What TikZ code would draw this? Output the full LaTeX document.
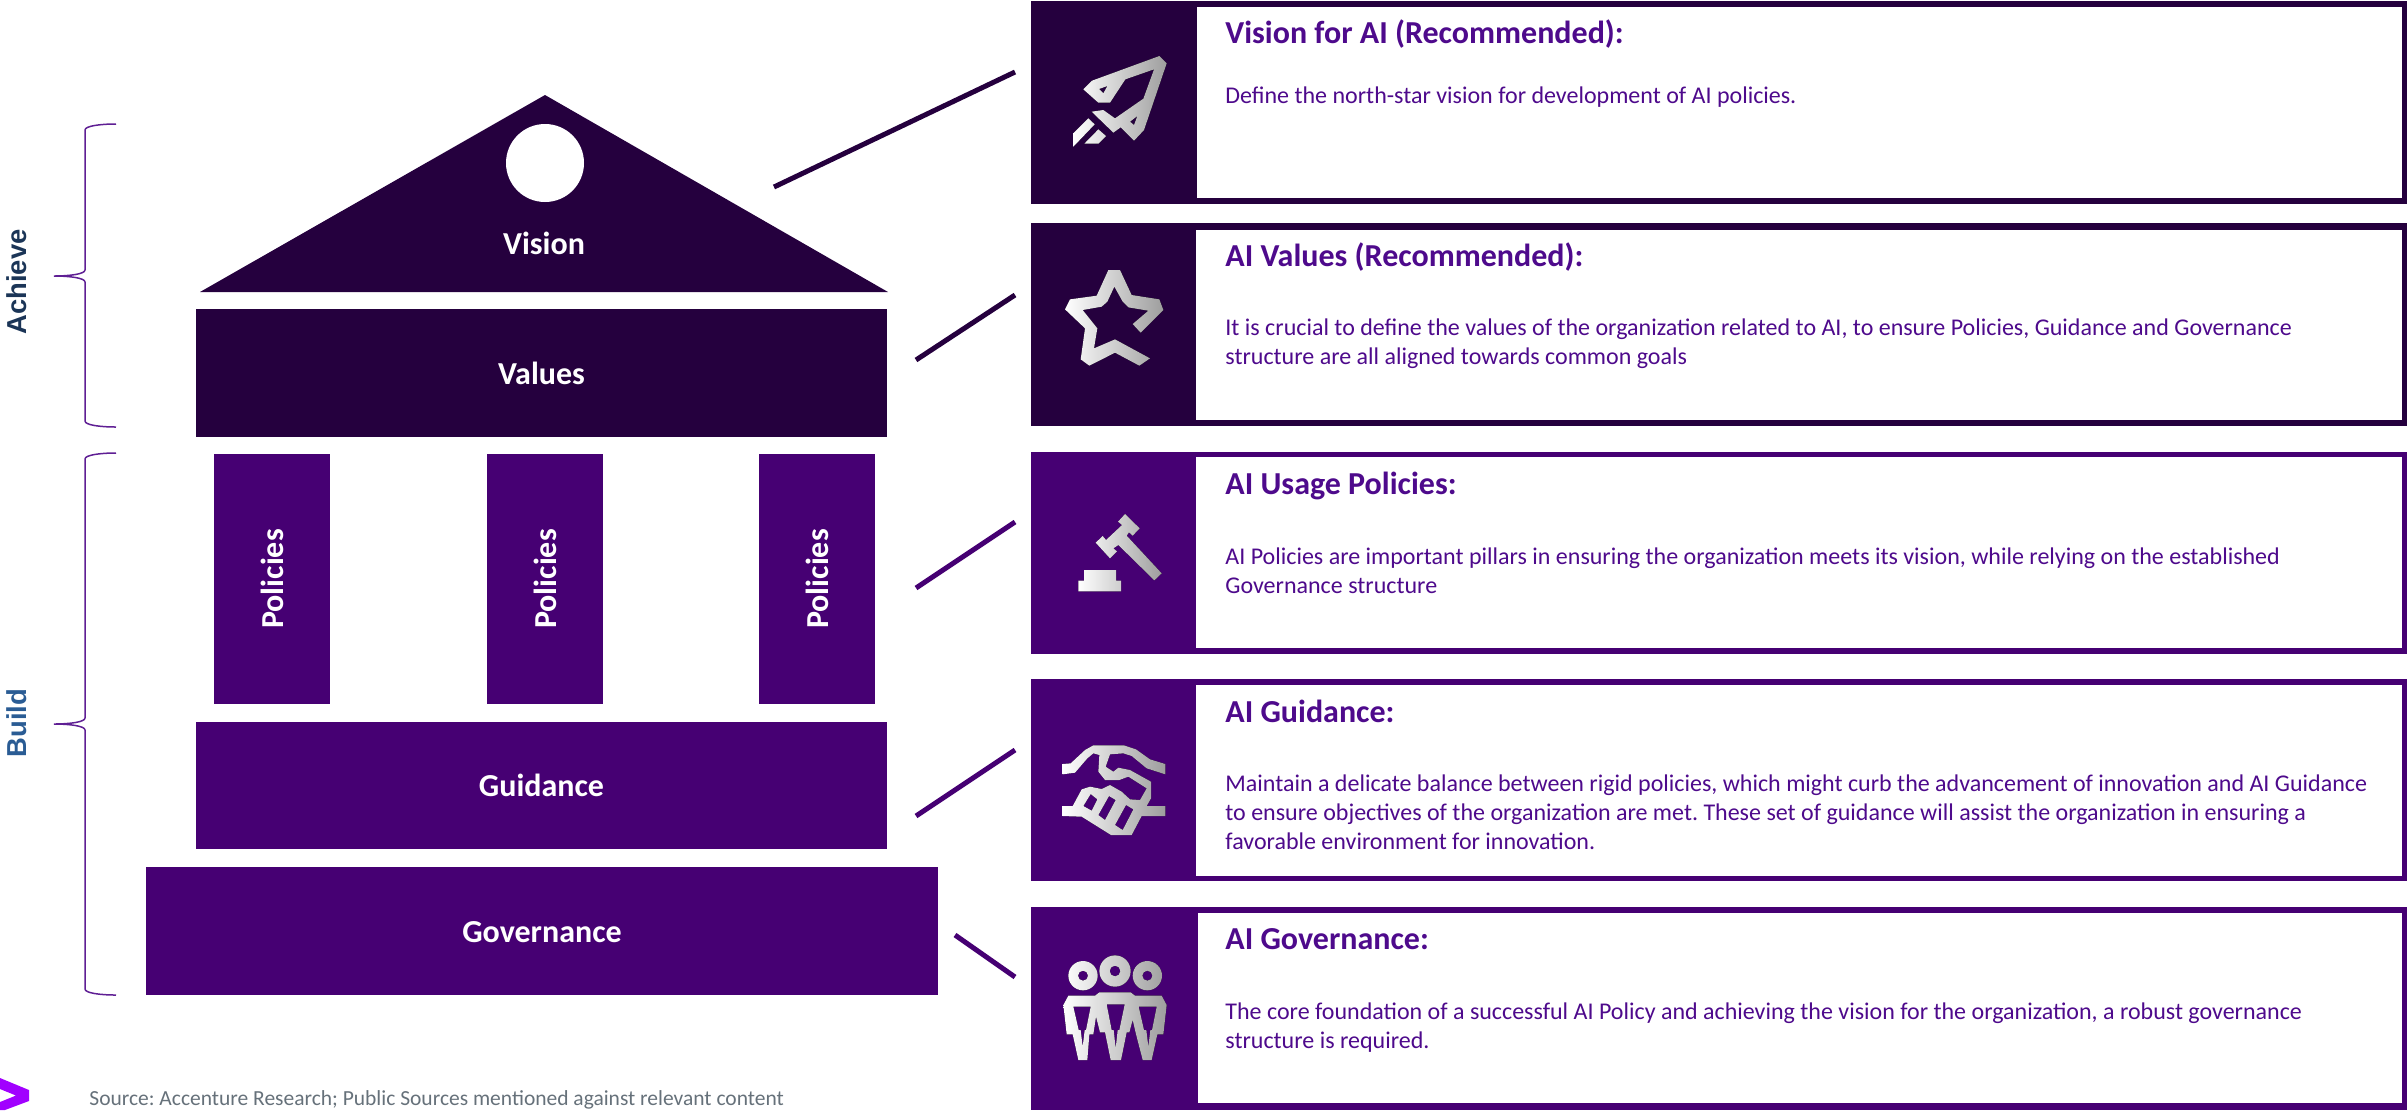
\documentclass[tikz,border=0pt]{standalone}
\usepackage{fontspec}
\setmainfont{Carlito}
\newfontfamily\arialfont{Liberation Sans}
\frenchspacing
\definecolor{darkp}{HTML}{25003E}
\definecolor{midp}{HTML}{460073}
\definecolor{textp}{HTML}{4E0A8C}
\definecolor{bracep}{HTML}{5F1F94}
\definecolor{srcgray}{HTML}{66717A}
\definecolor{achievec}{HTML}{1B3557}
\definecolor{buildc}{HTML}{2A5C94}
\definecolor{logoc}{HTML}{A100FF}
\newcommand{\pxbox}[7]{%
  \pgfmathsetmacro\bw{(#5-#3)*0.5}%
  \pgfmathsetmacro\bh{(#6-#4)*0.5}%
  \pgfmathsetmacro\bx{(#3+#5)/2}%
  \pgfmathsetmacro\by{(#4+#6)/2}%
  \node[#2,minimum width=\bw pt,minimum height=\bh pt] (#1) at (\bx,\by) {#7};}
\tikzset{
  x=0.5pt,y=-0.5pt,
  solid box/.style={fill=#1,draw=none,inner sep=0pt,outer sep=0pt},
  labelfont/.style={text=white,text height=11pt,text depth=0pt,font=\fontsize{16}{19}\selectfont\bfseries},
  blocklabel/.style={solid box=#1,labelfont},
  cardtitle/.style={anchor=base west,inner sep=0pt,text=textp,font=\fontsize{16}{19}\selectfont\bfseries},
  cardbody/.style={anchor=north west,inner sep=0pt,text=textp,align=left,font=\fontsize{12}{14.5}\selectfont},
  sidelabel/.style={rotate=90,inner sep=0pt,font=\arialfont\fontsize{13.7}{16}\selectfont\bfseries},
  link/.style={draw=#1,line width=2.5pt},
  bracket/.style={draw=bracep,line width=0.75pt},
  iconfill/.style={even odd rule,left color=white,right color=black!38,draw=none},
}
\newcommand{\bodytext}[4]{\node[cardbody] (#1) at (#2,#3) {\rule{0pt}{10pt}#4};}
\begin{document}
\begin{tikzpicture}
\useasboundingbox (0,0) rectangle (2407,1110);
% temple
\fill[darkp] (545,95) -- (888,292) -- (200,292) -- cycle;
\node[circle,fill=white,inner sep=0pt,minimum size=39pt] (sun) at (545,163) {};
\node[inner sep=0pt,labelfont] (vision) at (544,243) {Vision};
\pxbox{values}{blocklabel=darkp}{196}{309}{887}{437}{Values}
\pxbox{p1}{solid box=midp}{214}{454}{330}{704}{}
\pxbox{p2}{solid box=midp}{487}{454}{603}{704}{}
\pxbox{p3}{solid box=midp}{759}{454}{875}{704}{}
\foreach \nm/\px in {pa/p1,pb/p2,pc/p3}{
  \node[rotate=90,inner sep=0pt,labelfont] (\nm) at (\px) {Policies};
}
\pxbox{guidance}{blocklabel=midp}{196}{722}{887}{849}{Guidance}
\pxbox{governance}{blocklabel=midp}{146}{867}{938}{995}{Governance}
% braces
\draw[bracket] (116,124) .. controls (100,124) and (85,126) .. (85,130) -- (85,270) .. controls (85,274) and (70,276) .. (54,276) .. controls (70,276) and (85,278) .. (85,282) -- (85,421) .. controls (85,425) and (100,427) .. (116,427);
\draw[bracket] (116,453) .. controls (100,453) and (85,455) .. (85,459) -- (85,718) .. controls (85,722) and (70,724) .. (54,724) .. controls (70,724) and (85,726) .. (85,730) -- (85,989) .. controls (85,993) and (100,995) .. (116,995);
\node[sidelabel,text=achievec] (achieve) at (17,282) {Achieve};
\node[sidelabel,text=buildc] (build) at (17,723) {Build};
% cards
\pxbox{c1}{solid box=darkp}{1031}{1}{2407}{204}{}
\pxbox{w1}{solid box=white}{1197}{7}{2402}{198}{}
\pxbox{c2}{solid box=darkp}{1031}{223}{2407}{426}{}
\pxbox{w2}{solid box=white}{1196}{230}{2402}{420}{}
\pxbox{c3}{solid box=midp}{1031}{451.5}{2407}{654}{}
\pxbox{w3}{solid box=white}{1196}{457}{2402}{648}{}
\pxbox{c4}{solid box=midp}{1031}{679}{2407}{881}{}
\pxbox{w4}{solid box=white}{1196}{685}{2402}{876}{}
\pxbox{c5}{solid box=midp}{1031}{907}{2407}{1110}{}
\pxbox{w5}{solid box=white}{1198}{913}{2402}{1103}{}
% connectors
\coordinate (l1a) at (774,187); \coordinate (l1b) at (1015,72);
\coordinate (l2a) at (916,360); \coordinate (l2b) at (1015,295);
\coordinate (l3a) at (916,588); \coordinate (l3b) at (1015,522);
\coordinate (l4a) at (916,816); \coordinate (l4b) at (1015,750);
\coordinate (l5a) at (955,935); \coordinate (l5b) at (1015,977);
\draw[link=darkp] (l1a) -- (l1b);
\draw[link=darkp] (l2a) -- (l2b);
\draw[link=midp] (l3a) -- (l3b);
\draw[link=midp] (l4a) -- (l4b);
\draw[link=midp] (l5a) -- (l5b);
% card text
\node[cardtitle] (t1) at (1225,43) {Vision for AI (Recommended):};
\bodytext{b1}{1225}{83}{Define the north-star vision for development of AI policies.}
\node[cardtitle] (t2) at (1225,266) {AI Values (Recommended):};
\bodytext{b2}{1225}{315}{It is crucial to define the values of the organization related to AI, to ensure Policies, Guidance and Governance\\structure are all aligned towards common goals}
\node[cardtitle] (t3) at (1225,494) {AI Usage Policies:};
\bodytext{b3}{1225}{544}{AI Policies are important pillars in ensuring the organization meets its vision, while relying on the established\\Governance structure}
\node[cardtitle] (t4) at (1225,722) {AI Guidance:};
\bodytext{b4}{1225}{771}{Maintain a delicate balance between rigid policies, which might curb the advancement of innovation and AI Guidance\\to ensure objectives of the organization are met. These set of guidance will assist the organization in ensuring a\\favorable environment for innovation.}
\node[cardtitle] (t5) at (1225,949) {AI Governance:};
\bodytext{b5}{1225}{999}{The core foundation of a successful AI Policy and achieving the vision for the organization, a robust governance\\structure is required.}
% rocket
\begin{scope}[shift={(1020,0)},x=0.16667pt,y=-0.16667pt]
\fill[iconfill] (190,268)--(216,242)--(418,168)--(440,190)--(372,390)--(342,422)--(302,382)--(280,398)--(215,335)--(250,330)--(285,355)--(370,296)--(402,208)--(316,238)--(270,308)--(235,308)--cycle
 (237,267)--(262,258)--(250,280)--cycle (330,365)--(352,348)--(342,375)--cycle
 (160,400)--(205,355)--(224,373)--(160,440)--cycle (193,431)--(235,388)--(258,408)--(235,431)--cycle;
% star
\fill[iconfill] (135,928)--(150,898)--(230,887)--(265,810)--(300,810)--(335,885)--(418,898)--(430,930)--(362,998)--(338,972)--(385,932)--(325,922)--(308,905)--(283,860)--(262,905)--(245,920)--(188,930)--(232,985)--(222,1045)--(285,1018)--(390,1075)--(358,1097)--(285,1058)--(208,1097)--(182,1078)--(195,985)--cycle;
\end{scope}
% gavel
\begin{scope}[shift={(1050,490)},x=0.16667pt,y=-0.16667pt]
\fill[iconfill] (85,304)--(85,272)--(102,272)--(102,240)--(198,240)--(198,272)--(213,272)--(213,304)--cycle
 (137,158)--(158,138)--(168,150)--(216,105)--(204,95)--(225,72)--(269,115)--(248,137)--(237,127)--(230,137)--(335,250)--(313,271)--(205,165)--(190,175)--(201,184)--(180,205)--cycle;
\end{scope}
% handshake
\begin{scope}[shift={(1050,720)},x=0.16667pt,y=-0.16667pt]
\fill[iconfill] (38,132)--(62,130)--(105,90)--(130,76)--(222,76)--(258,88)--(300,118)--(346,132)--(346,163)--(290,145)--(245,108)--(220,100)--(180,103)--(167,140)--(190,155)--(205,143)--(240,150)--(303,185)--(303,235)--(290,258)--(346,258)--(346,288)--(275,288)--(245,345)--(183,345)--(95,290)--(38,288)--(38,258)--(68,258)--(95,208)--(120,200)--(155,207)--(180,195)--(215,215)--(240,238)--(270,240)--(290,205)--(235,170)--(208,180)--(165,180)--(145,155)--(148,105)--(130,100)--(112,115)--(75,158)--(38,163)--cycle
 (122,222)--(142,238)--(125,272)--(100,258)--cycle (177,228)--(197,240)--(165,300)--(145,285)--cycle (228,255)--(250,268)--(218,330)--(195,315)--cycle;
\end{scope}
% people
\begin{scope}[shift={(1050,945)},x=0.16667pt,y=-0.16667pt]
\fill[iconfill] (99,92) circle[radius=44] (99,92) circle[radius=15] (195,78) circle[radius=47] (195,78) circle[radius=16] (292,92) circle[radius=44] (292,92) circle[radius=15]
 (40,180)--(55,152)--(135,152)--(148,142)--(242,142)--(255,152)--(335,152)--(350,180)--(340,268)--(322,268)--(305,345)--(278,345)--(258,268)--(248,225)--(238,262)--(230,262)--(213,345)--(182,345)--(165,262)--(150,262)--(138,215)--(130,268)--(118,268)--(112,345)--(85,345)--(68,268)--(50,268)--cycle
 (70,185)--(122,185)--(108,255)--(104,255)--(98,305)--(92,255)--(86,255)--cycle
 (170,178)--(224,178)--(208,255)--(203,255)--(197,310)--(191,255)--(185,255)--cycle
 (266,185)--(320,185)--(306,255)--(301,255)--(295,305)--(289,255)--(282,255)--cycle;
\end{scope}
% logo and source
\fill[logoc] (0,1078)--(29,1090)--(29,1101)--(5,1110)--(0,1110)--(0,1102)--(16,1095.5)--(0,1089)--cycle;
\node[anchor=base west,inner sep=0pt,text=srcgray,font=\fontsize{10.75}{13}\selectfont] (source) at (89,1105) {Source: Accenture Research; Public Sources mentioned against relevant content};
\end{tikzpicture}
\end{document}
